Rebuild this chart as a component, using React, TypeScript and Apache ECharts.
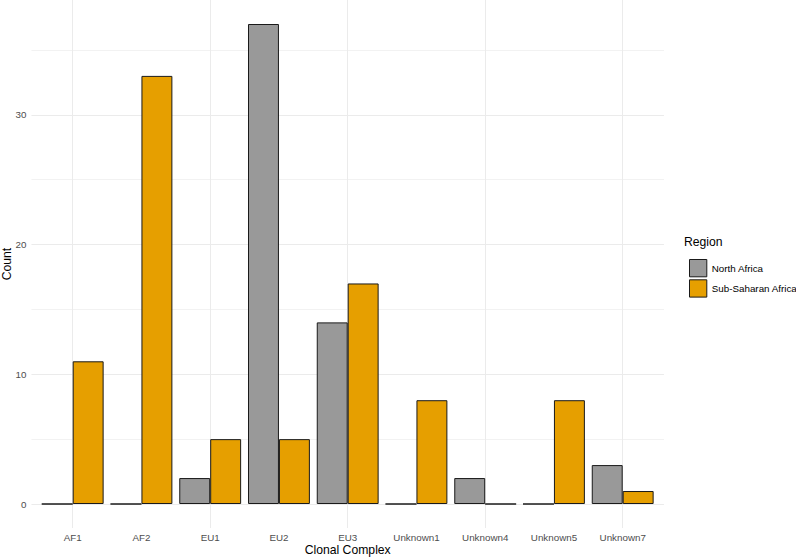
import React, { useEffect, useRef } from 'react';
import * as echarts from 'echarts';

const categories = ['AF1', 'AF2', 'EU1', 'EU2', 'EU3', 'Unknown1', 'Unknown4', 'Unknown5', 'Unknown7'];
const northAfrica = [0, 0, 2, 37, 14, 0, 2, 0, 3];
const subSaharanAfrica = [11, 33, 5, 5, 17, 8, 0, 8, 1];
const seriesNames = ['North Africa', 'Sub-Saharan Africa'];
const seriesColors = ['#999999', '#E69F00'];
const gridStep = 5;
const labelStep = 10;

const FONT = '"Liberation Sans", Arial, Helvetica, sans-serif';

export default function App() {
  const ref = useRef<HTMLDivElement>(null);

  useEffect(() => {
    document.body.style.margin = '0';
    if (!ref.current) return;
    const chart = echarts.init(ref.current, null, { renderer: 'svg' });

    const dataMax = Math.max(...northAfrica, ...subSaharanAfrica);
    const pad = dataMax * 0.05;
    const yMin = -pad;
    const yMax = dataMax + pad;
    const gridMax = Math.floor(dataMax / gridStep) * gridStep;

    // panel geometry (pixels)
    const panelTop = 0;
    const panelBottom = 528;
    const panelH = panelBottom - panelTop;
    const k = panelH / (yMax - yMin);
    const zeroY = panelBottom + yMin * k;
    const bandW = 68.75;
    const firstCenter = 72.7;
    const n = categories.length;
    const panelLeft = firstCenter - 0.6 * bandW;
    const panelRight = firstCenter + (n - 1) * bandW + 0.6 * bandW;

    const option: any = {
      animation: false,
      textStyle: { fontFamily: FONT },
      grid: [
        // bars
        { left: firstCenter - bandW / 2, top: panelTop, width: bandW * n, height: panelH, containLabel: false, outerBoundsMode: 'none' },
        // horizontal gridlines + y labels
        { left: panelLeft, top: zeroY - gridMax * k, width: panelRight - panelLeft, height: gridMax * k, containLabel: false, outerBoundsMode: 'none' },
        // vertical gridlines at category centres
        { left: firstCenter, top: panelTop, width: (n - 1) * bandW, height: panelH, containLabel: false, outerBoundsMode: 'none' },
      ],
      xAxis: [
        {
          gridIndex: 0,
          type: 'category',
          data: categories,
          axisLine: { show: false },
          axisTick: { show: false },
          splitLine: { show: false },
          axisLabel: { color: '#4d4d4d', fontSize: 9.8, margin: 4, fontFamily: FONT, interval: 0 },
          name: 'Clonal Complex',
          nameLocation: 'middle',
          nameGap: 15,
          nameMoveOverlap: false,
          nameTextStyle: { color: '#000', fontSize: 12.2, fontFamily: FONT, lineHeight: 13 },
        },
        { gridIndex: 1, type: 'value', min: 0, max: 1, show: false },
        {
          gridIndex: 2,
          type: 'category',
          data: categories,
          boundaryGap: false,
          axisLine: { show: false },
          axisTick: { show: false },
          axisLabel: { show: false },
          splitLine: { show: true, showMinLine: true, showMaxLine: true, lineStyle: { color: '#ebebeb', width: 1 } },
        },
      ],
      yAxis: [
        {
          gridIndex: 0,
          type: 'value',
          min: yMin,
          max: yMax,
          axisLine: { show: false },
          axisTick: { show: false },
          axisLabel: { show: false },
          splitLine: { show: false },
          name: 'Count',
          nameLocation: 'middle',
          nameGap: 25,
          nameRotate: 90,
          nameMoveOverlap: false,
          nameTextStyle: { color: '#000', fontSize: 12.2, fontFamily: FONT },
        },
        {
          gridIndex: 1,
          type: 'value',
          min: 0,
          max: gridMax,
          interval: gridStep,
          axisLine: { show: false },
          axisTick: { show: false },
          axisLabel: {
            color: '#4d4d4d',
            fontSize: 9.8,
            margin: 5,
            fontFamily: FONT,
            formatter: (v: number) => (v % labelStep === 0 ? String(v) : ''),
          },
          splitLine: { show: true, lineStyle: { color: ['#ebebeb', '#f2f2f2'], width: 1 } },
        },
        { gridIndex: 2, type: 'value', min: 0, max: 1, show: false },
      ],
      legend: {
        orient: 'vertical',
        left: 684,
        top: 254,
        icon: 'rect',
        itemWidth: 17.3,
        itemHeight: 17.3,
        itemGap: 2,
        itemTextGap: 8.5,
        data: seriesNames,
        itemStyle: { borderColor: '#1a1a1a', borderWidth: 1 },
        textStyle: { color: '#000', fontSize: 9.8, fontFamily: FONT },
      },
      graphic: [
        {
          type: 'text',
          left: 684,
          top: 236,
          style: { text: 'Region', fill: '#000', fontSize: 12.2, fontFamily: FONT },
        },
      ],
      series: [
        {
          name: seriesNames[0],
          type: 'bar',
          xAxisIndex: 0,
          yAxisIndex: 0,
          data: northAfrica,
          barGap: '0%',
          barCategoryGap: '10%',
          itemStyle: { color: seriesColors[0], borderColor: '#1a1a1a', borderWidth: 1 },
        },
        {
          name: seriesNames[1],
          type: 'bar',
          xAxisIndex: 0,
          yAxisIndex: 0,
          data: subSaharanAfrica,
          barGap: '0%',
          barCategoryGap: '10%',
          itemStyle: { color: seriesColors[1], borderColor: '#1a1a1a', borderWidth: 1 },
        },
      ],
    };

    chart.setOption(option);
    return () => chart.dispose();
  }, []);

  return <div ref={ref} style={{ width: 796, height: 558 }} />;
}
